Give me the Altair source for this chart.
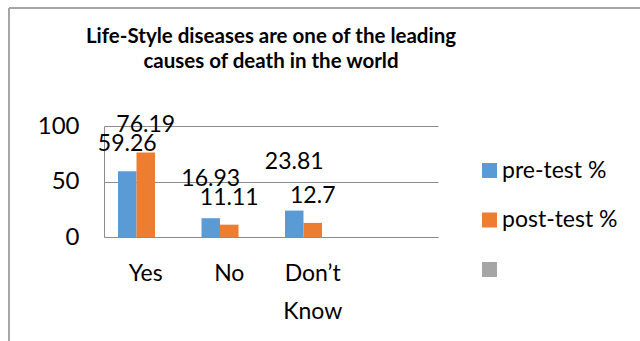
import altair as alt
import pandas as pd

# Survey answers, pre- and post-test percentages
categories = ["Yes", "No", "Don’t Know"]
pre_test = [59.26, 16.93, 23.81]
post_test = [76.19, 11.11, 12.7]
series = ["pre-test %", "post-test %", " "]
series_colors = ["#5b9bd5", "#ed7d31", "#a5a5a5"]
axis_slots = categories + [""]

# Extra lift (in axis units) for labels that would otherwise collide
label_raise = {("pre-test %", "No"): 11, ("pre-test %", "Don’t Know"): 19}

rows = []
for cat, a, b in zip(categories, pre_test, post_test):
    rows.append({"answer": cat, "series": series[0], "pct": a})
    rows.append({"answer": cat, "series": series[1], "pct": b})
df = pd.DataFrame(rows)
df["label_pos"] = [r.pct + label_raise.get((r.series, r.answer), 0) for r in df.itertuples()]

FONT = "Lato"

x_enc = alt.X(
    "answer:N",
    scale=alt.Scale(domain=axis_slots, paddingInner=0, paddingOuter=0),
    axis=alt.Axis(
        title=None, labelAngle=0, ticks=False, labelPadding=25,
        labelFontSize=23, labelFont=FONT, labelColor="#000000",
        labelExpr="split(datum.label, ' ')", labelLineHeight=38,
        domainColor="#8c8c8c", labelBaseline="top",
    ),
)
x_off = alt.XOffset(
    "series:N",
    scale=alt.Scale(domain=series, paddingInner=0, paddingOuter=0.757),
)
y_scale = alt.Scale(domain=[0, 100])

bars = alt.Chart(df).mark_bar().encode(
    x=x_enc,
    xOffset=x_off,
    y=alt.Y(
        "pct:Q", scale=y_scale,
        axis=alt.Axis(
            title=None, values=[0, 50, 100], ticks=False, labelPadding=25,
            labelFontSize=24, labelFont=FONT, labelColor="#000000",
            gridColor="#8c8c8c", domainColor="#8c8c8c",
        ),
    ),
    color=alt.Color(
        "series:N",
        scale=alt.Scale(domain=series, range=series_colors),
        legend=alt.Legend(
            title=None, orient="none", legendX=374, legendY=33,
            symbolType="square", symbolSize=225, symbolStrokeWidth=0,
            labelFontSize=23, labelFont=FONT, labelColor="#000000",
            rowPadding=25.5, labelOffset=1,
        ),
    ),
)

labels = alt.Chart(df).mark_text(
    fontSize=23, font=FONT, color="#000000", baseline="middle", dy=-27
).encode(
    x=x_enc,
    xOffset=x_off,
    y=alt.Y("label_pos:Q", scale=y_scale),
    text=alt.Text("pct:Q"),
)

# Outer chart frame (left and top edges)
frame_left = alt.Chart(df).mark_rule(color="#a6a6a6", strokeWidth=1.5).encode(
    x=alt.value(-95), y=alt.value(-118), y2=alt.value(230)
)
frame_top = alt.Chart(df).mark_rule(color="#a6a6a6", strokeWidth=1.5).encode(
    x=alt.value(-95), x2=alt.value(600), y=alt.value(-118)
)

chart = alt.layer(frame_left, frame_top, bars, labels).properties(
    width=334,
    height=111,
    padding={"left": 104, "top": 126, "right": 202, "bottom": 104},
    autosize=alt.AutoSizeParams(type="none"),
    title=alt.Title(
        ["Life-Style diseases are one of the leading", "causes of death in the world"],
        font=FONT, fontSize=20.5, fontWeight="bold", color="#000000",
        anchor="middle", frame="group", lineHeight=25, offset=0, dy=65,
    ),
    background="white",
).configure_view(stroke=None)

chart.save("out.html", embed_options={"renderer": "svg", "actions": False})
